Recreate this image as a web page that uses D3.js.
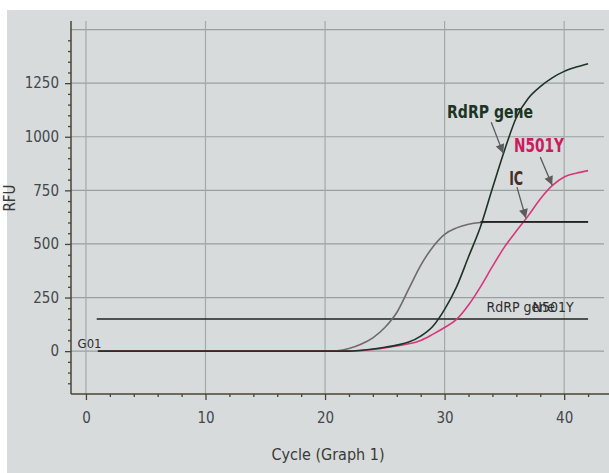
<!DOCTYPE html>
<html><head><meta charset="utf-8">
<script src="https://cdn.jsdelivr.net/npm/d3@7"></script>
<style>
html,body{margin:0;padding:0;background:#fff;}
svg text{font-family:"Liberation Sans Narrow","DejaVu Sans Condensed","Liberation Sans",sans-serif;}
</style></head>
<body>
<svg id="c" width="609" height="473"></svg>
<script>
// ---- data ----
const cycles = d3.range(1, 43);
const icValues = [0,0,0,0,0,0,0,0,0,0,0,0,0,0,0,0,0,0,0,0,2,12,32,62,110,180,290,400,485,545,575,592,600,603,603,603,603,603,603,603,603,603];
const rdrpValues = [0,0,0,0,0,0,0,0,0,0,0,0,0,0,0,0,0,0,0,0,0,0,4,10,18,28,42,70,115,195,300,440,580,760,935,1090,1180,1234,1275,1305,1325,1341];
const n501yValues = [0,0,0,0,0,0,0,0,0,0,0,0,0,0,0,0,0,0,0,0,0,0,2,8,15,24,34,50,78,110,148,215,300,395,485,560,632,710,772,812,830,842];
const xTicks = [0,10,20,30,40];
const yTicks = [0,250,500,750,1000,1250];
const thresholdRFU = 150;
const thresholdLabels = ["RdRP gene","N501Y"];
const icPlateau = {from:33, to:42, value:603};
const annotations = [
  {label:"RdRP gene", color:"#1d3524", tx:30.2, ty:1087, ax0:33.9, ay0:1068, ax1:34.9, ay1:923, size:17, len:86},
  {label:"N501Y", color:"#c81d5e", tx:35.8, ty:928, ax0:38.0, ay0:905, ax1:39.0, ay1:774, size:20, len:50},
  {label:"IC", color:"#4a2c22", tx:35.4, ty:774, ax0:36.05, ay0:765, ax1:36.8, ay1:620, size:20, len:14}
];

// ---- layout ----
const svg = d3.select("#c");
svg.append("rect").attr("x",7).attr("y",10).attr("width",602).attr("height",463).attr("fill","#d7dbdc");

const x = d3.scaleLinear().domain([-1.25, 43.75]).range([71, 609]);
const y = d3.scaleLinear().domain([-200, 1540]).range([394, 21]);

// gridlines
const grid = svg.append("g");
grid.selectAll(".hg").data(d3.range(0,1501,250)).join("line")
  .attr("x1",71).attr("x2",604).attr("y1",d=>y(d)).attr("y2",d=>y(d))
  .attr("stroke","#9a9fa1").attr("stroke-width",1.2);
grid.selectAll(".vg").data(xTicks).join("line")
  .attr("x1",d=>x(d)).attr("x2",d=>x(d)).attr("y1",21).attr("y2",394)
  .attr("stroke","#a4a9ab").attr("stroke-width",1.2);

// axes
const axisColor = "#4a4436";
const xAxis = svg.append("g").attr("transform","translate(0,394)")
  .call(d3.axisBottom(x).tickValues(xTicks).tickSize(6).tickPadding(12).tickFormat(d3.format("d")));
const xMinor = svg.append("g").attr("transform","translate(0,394)")
  .call(d3.axisBottom(x).tickValues(d3.range(-0,44,2).filter(v=>v%10!==0)).tickSize(3).tickFormat(""));
const yAxis = svg.append("g").attr("transform","translate(71,0)")
  .call(d3.axisLeft(y).tickValues(yTicks).tickSize(6).tickPadding(6).tickFormat(d3.format("d")));
const yMinor = svg.append("g").attr("transform","translate(71,0)")
  .call(d3.axisLeft(y).tickValues(d3.range(-150,1501,50).filter(v=>v%250!==0)).tickSize(3).tickFormat(""));
[xAxis,xMinor,yAxis,yMinor].forEach(g=>{
  g.select(".domain").attr("stroke",axisColor).attr("stroke-width",1.5);
  g.selectAll(".tick line").attr("stroke",axisColor).attr("stroke-width",1.3);
  g.selectAll(".tick text").attr("fill","#45474a").attr("font-size",15)
    .attr("font-family",'"Liberation Sans Narrow","DejaVu Sans Condensed","Liberation Sans",sans-serif');
});
xAxis.select(".domain").attr("d","M71,0H609");
yAxis.select(".domain").attr("d","M0,394V21");
xMinor.select(".domain").remove(); yMinor.select(".domain").remove();

// axis titles
svg.append("text").attr("x",328).attr("y",460).attr("text-anchor","middle")
  .attr("font-size",16).attr("fill","#3a3a38").text("Cycle (Graph 1)");
svg.append("text").attr("transform","translate(15,198) rotate(-90)").attr("text-anchor","middle")
  .attr("font-size",15).attr("fill","#3a3a38").text("RFU");

// threshold line
svg.append("line").attr("x1",x(0.9)).attr("x2",x(42)).attr("y1",y(thresholdRFU)).attr("y2",y(thresholdRFU))
  .attr("stroke","#222").attr("stroke-width",1.6);
svg.append("text").attr("x",x(33.5)).attr("y",y(182)).attr("font-size",14).attr("fill","#2e2e2e").text(thresholdLabels[0]);
svg.append("text").attr("x",x(40.8)).attr("y",y(182)).attr("text-anchor","end").attr("font-size",14).attr("fill","#2e2e2e").text(thresholdLabels[1]);

// curves
const line = d3.line().x((d,i)=>x(cycles[i])).y(d=>y(d)).curve(d3.curveMonotoneX);
svg.append("path").datum(icValues).attr("d",line).attr("fill","none").attr("stroke","#706a6b").attr("stroke-width",1.6);
svg.append("path").datum(n501yValues).attr("d",line).attr("fill","none").attr("stroke","#d6387a").attr("stroke-width",1.6);
svg.append("path").datum(rdrpValues).attr("d",line).attr("fill","none").attr("stroke","#1f3326").attr("stroke-width",1.6);
svg.append("line").attr("x1",x(icPlateau.from)).attr("x2",x(icPlateau.to)).attr("y1",y(icPlateau.value)).attr("y2",y(icPlateau.value))
  .attr("stroke","#222").attr("stroke-width",1.6);

// well label
svg.append("text").attr("x",x(-0.7)).attr("y",y(15)).attr("font-size",13).attr("fill","#2e2e2e").text("G01");

// annotations
const defs = svg.append("defs");
defs.append("marker").attr("id","ah").attr("viewBox","0 0 10 10").attr("refX",10).attr("refY",5)
  .attr("markerWidth",14).attr("markerHeight",9).attr("markerUnits","userSpaceOnUse").attr("orient","auto")
  .append("path").attr("d","M0,0L10,5L0,10Z").attr("fill","#5c5c5c");
annotations.forEach(a=>{
  svg.append("line").attr("x1",x(a.ax0)).attr("y1",y(a.ay0)).attr("x2",x(a.ax1)).attr("y2",y(a.ay1))
    .attr("stroke","#5c5c5c").attr("stroke-width",1.3).attr("marker-end","url(#ah)");
  svg.append("text").attr("x",x(a.tx)).attr("y",y(a.ty)).attr("font-size",a.size).attr("font-weight","bold")
    .attr("fill",a.color).attr("textLength",a.len).attr("lengthAdjust","spacingAndGlyphs").text(a.label);
});
</script>
</body></html>
